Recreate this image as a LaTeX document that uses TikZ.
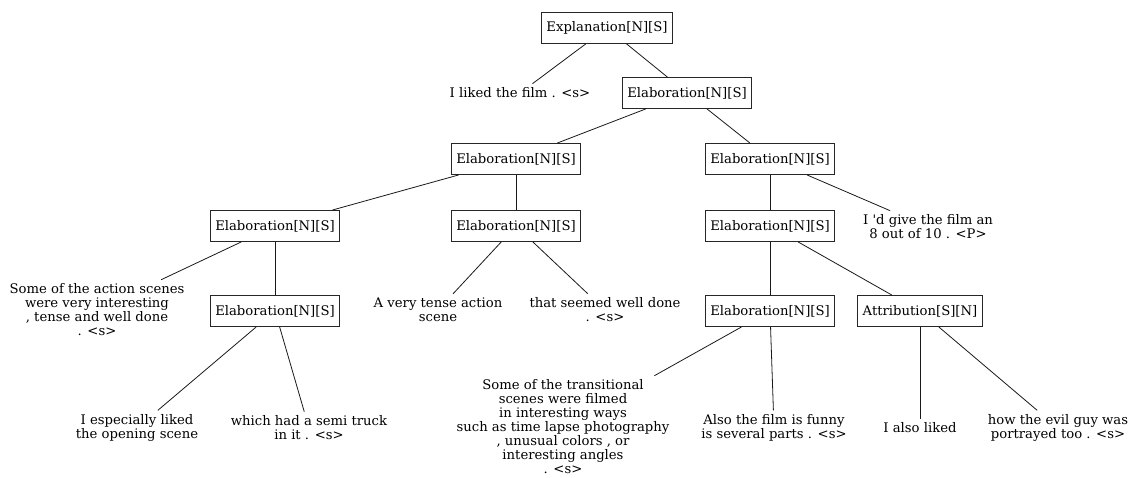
\documentclass[tikz,border=0pt]{standalone}
\usepackage{fontspec}
\setmainfont{DejaVu Serif}
\usepackage{tikz}
\usetikzlibrary{positioning}
\tikzset{
    %Define style for relation boxes
    rel/.style={
           rectangle,
           draw=black!85, line width=0.9pt,
           inner xsep=5pt,
           minimum height=31pt,
           font=\fontsize{13.2}{14}\selectfont,
           text centered},
    %Define style for text units
    edu/.style={
           rectangle,
           inner sep=4pt,
           align=center,
           font=\fontsize{13.2}{14}\selectfont},
    % Define link style
    link/.style={
           draw=black!90,
           line width=0.8pt}
}
\begin{document}
\begin{tikzpicture}[x=1pt,y=-1pt]
\useasboundingbox (0,0) rectangle (1134,477);

 %nodes
\node[rel](expl) at (607,28) {Explanation[N][S]};
\node[edu](liked) at (520,93) {I liked the film . <s>};
\node[rel](e1) at (687,93) {Elaboration[N][S]};
\node[rel](e2) at (516,159) {Elaboration[N][S]};
\node[rel](e3) at (770,159) {Elaboration[N][S]};
\node[rel](e4) at (275,226) {Elaboration[N][S]};
\node[rel](e5) at (516,226) {Elaboration[N][S]};
\node[rel](e6) at (770,226) {Elaboration[N][S]};
\node[edu](give) at (928,227) {I \textquotesingle d give the film an\\8 out of 10 . <P>};
\node[edu](action) at (97,310) {Some of the action scenes\\were very interesting\\, tense and well done\\. <s>};
\node[rel](e7) at (275,311) {Elaboration[N][S]};
\node[edu](tense) at (438,310) {A very tense action\\scene};
\node[edu](seemed) at (605,310) {that seemed well done\\. <s>};
\node[rel](e8) at (770,311) {Elaboration[N][S]};
\node[rel](attr) at (920,311) {Attribution[S][N]};
\node[edu](opening) at (137,428) {I especially liked\\the opening scene};
\node[edu](truck) at (309,428) {which had a semi truck\\in it . <s>};
\node[edu](trans) at (563,427) {Some of the transitional\\scenes were filmed\\in interesting ways\\such as time lapse photography\\, unusual colors , or\\interesting angles\\. <s>};
\node[edu](funny) at (774,428) {Also the film is funny\\is several parts . <s>};
\node[edu](also) at (920,428) {I also liked};
\node[edu](evil) at (1058,428) {how the evil guy was\\portrayed too . <s>};

 %links
\path[link]
    (expl) edge (liked) edge (e1)
    (e1) edge (e2) edge (e3)
    (e2) edge (e4) edge (e5)
    (e3) edge (e6) edge (give)
    (e4) edge (action) edge (e7)
    (e5) edge (tense) edge (seemed)
    (e6) edge (e8) edge (attr)
    (e7) edge (opening) edge (truck)
    (e8) edge (trans) edge (funny)
    (attr) edge (also) edge (evil);
\end{tikzpicture}
\end{document}
